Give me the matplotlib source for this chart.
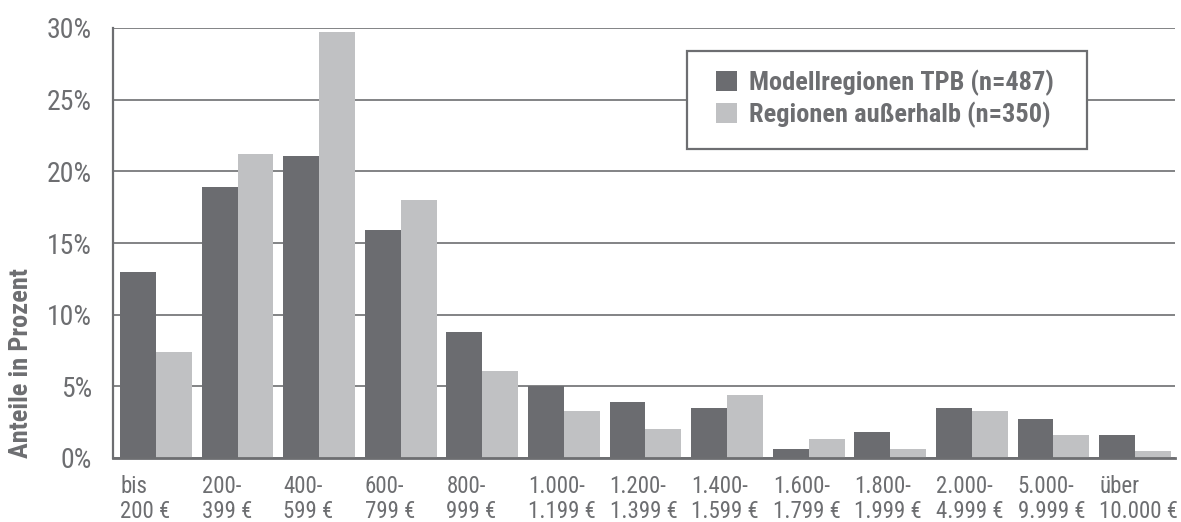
import numpy as np
import matplotlib
matplotlib.use('Agg')
import matplotlib.pyplot as plt
from matplotlib import font_manager
from matplotlib.patches import Rectangle

# data
categories = ['bis\n200 €', '200-\n399 €', '400-\n599 €', '600-\n799 €', '800-\n999 €',
              '1.000-\n1.199 €', '1.200-\n1.399 €', '1.400-\n1.599 €', '1.600-\n1.799 €',
              '1.800-\n1.999 €', '2.000-\n4.999 €', '5.000-\n9.999 €', 'über\n10.000 €']
modellregionen = [13.0, 18.9, 21.1, 15.9, 8.8, 5.0, 3.9, 3.5, 0.6, 1.8, 3.5, 2.7, 1.6]
ausserhalb = [7.4, 21.2, 29.7, 18.0, 6.1, 3.3, 2.0, 4.4, 1.3, 0.6, 3.3, 1.6, 0.5]
series_labels = ['Modellregionen TPB (n=487)', 'Regionen außerhalb (n=350)']
yticks = [0, 5, 10, 15, 20, 25, 30]

text_grey = '#6d6e71'
dark = '#6b6c70'
light = '#c0c1c3'

# look for a narrow font, the reference uses a condensed face
fonts = font_manager.fontManager.ttflist
names = {f.name for f in fonts}
family, stretch, narrow = 'DejaVu Sans', 'normal', False
for cand in ['Liberation Sans Narrow', 'Roboto Condensed', 'Open Sans Condensed', 'Arial Narrow']:
    if cand in names:
        family, narrow = cand, True
        break
if not narrow:
    for f in fonts:
        if f.name in ('Roboto', 'Open Sans', 'DejaVu Sans', 'Noto Sans') and f.stretch in ('condensed', 'semi-condensed'):
            family, stretch, narrow = f.name, f.stretch, True
            break

plt.rcParams['font.family'] = [family, 'DejaVu Sans']
plt.rcParams['font.stretch'] = stretch

if narrow:
    xs, ys, ls, yl = 16.5, 20, 19, 19
else:
    xs, ys, ls, yl = 12, 15, 15, 14

W, H = 1181, 522
fig = plt.figure(figsize=(W / 100, H / 100), dpi=100)
ax = fig.add_axes([113 / W, 1 - 458 / H, 1062 / W, 430 / H])

x = np.arange(len(categories))
w = 0.44
ax.bar(x - w / 2, modellregionen, width=w, color=dark, label=series_labels[0], zorder=2)
ax.bar(x + w / 2, ausserhalb, width=w, color=light, label=series_labels[1], zorder=2)

ax.set_xlim(-0.526, len(categories) - 1 + 0.49)
ax.set_ylim(0, 30)
ax.set_yticks(yticks)
ax.set_yticklabels([f'{t}%' for t in yticks])
ax.yaxis.grid(True, color=text_grey, linewidth=1.2)
ax.set_axisbelow(True)

ax.set_xticks(x - w)
ax.set_xticklabels(categories, ha='left', linespacing=1.12)
ax.tick_params(axis='x', length=0, pad=12, labelsize=xs, labelcolor=text_grey)
ax.tick_params(axis='y', length=0, pad=15, labelsize=ys, labelcolor=text_grey)

for s in ['top', 'right']:
    ax.spines[s].set_visible(False)
ax.spines['left'].set_color(text_grey)
ax.spines['left'].set_linewidth(1.6)
ax.spines['bottom'].set_color(text_grey)
ax.spines['bottom'].set_linewidth(2.0)

# legend box drawn separately so the padding matches the reference
frame = Rectangle((687 / W, 1 - 149 / H), 400 / W, 98 / H, transform=fig.transFigure,
                  facecolor='white', edgecolor=text_grey, linewidth=1.6, zorder=3, clip_on=False)
ax.add_patch(frame)
leg = ax.legend(loc='upper left', bbox_to_anchor=(716 / W, 1 - 70 / H),
                bbox_transform=fig.transFigure, frameon=False,
                prop={'weight': 'bold', 'size': ls}, handlelength=0.8, handleheight=0.8,
                handletextpad=0.45, labelspacing=0.2, borderpad=0, borderaxespad=0)
leg.set_zorder(4)
for t in leg.get_texts():
    t.set_color(text_grey)

fig.text(21 / W, 1 - 363 / H, 'Anteile in Prozent', rotation=90, ha='center', va='center',
         fontsize=yl, fontweight='bold', color=text_grey)

fig.savefig('out.png', dpi=100)
